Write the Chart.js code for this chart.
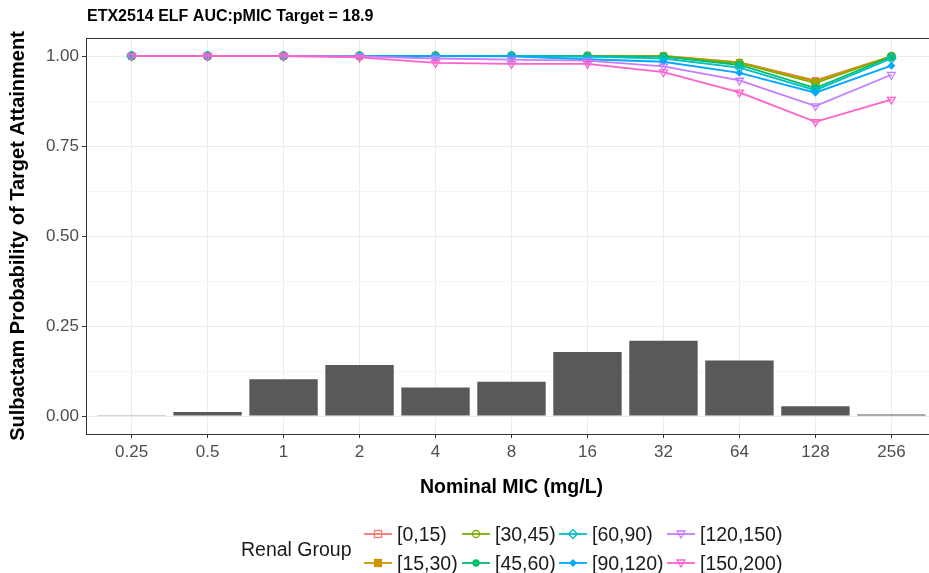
<!DOCTYPE html>
<html>
<head>
<meta charset="utf-8">
<script src="https://cdn.jsdelivr.net/npm/chart.js@4.4.1/dist/chart.umd.min.js"></script>
<style>
  html, body { margin: 0; padding: 0; overflow: hidden; background: #fff; width: 929px; height: 573px; }
  #wrap { position: absolute; left: 0; top: 0; width: 945px; height: 573px; }
  #legend { position: absolute; left: 0; top: 0; width: 929px; height: 573px; pointer-events: none;
            font-family: "Liberation Sans", Arial, sans-serif; color: #1a1a1a; }
  .lg-title { position: absolute; font-size: 19.5px; line-height: 22px; left: 241px; top: 538px; }
  .lg-item { position: absolute; height: 22px; display: flex; align-items: center; font-size: 19.5px; white-space: nowrap; }
  .lg-item svg { margin-right: 5px; }
</style>
</head>
<body>
<div id="wrap"><canvas id="c" width="945" height="573"></canvas></div>
<div id="legend"></div>
<script>
// ---------- data ----------
const categories = ['0.25', '0.5', '1', '2', '4', '8', '16', '32', '64', '128', '256'];
const micDistribution = [0.002, 0.011, 0.102, 0.142, 0.079, 0.095, 0.178, 0.209, 0.154, 0.027, 0.004];

const groupNames = ['[0,15)', '[15,30)', '[30,45)', '[45,60)', '[60,90)', '[90,120)', '[120,150)', '[150,200)'];
const pta_0_15    = [1, 1, 1, 1, 1, 1, 1, 1, 0.982, 0.932, 0.999];
const pta_15_30   = [1, 1, 1, 1, 1, 1, 1, 1, 0.982, 0.930, 0.999];
const pta_30_45   = [1, 1, 1, 1, 1, 1, 1, 0.999, 0.980, 0.925, 0.999];
const pta_45_60   = [1, 1, 1, 1, 1, 1, 0.999, 0.998, 0.975, 0.911, 0.998];
const pta_60_90   = [1, 1, 1, 1, 1, 1, 0.998, 0.993, 0.968, 0.905, 0.993];
const pta_90_120  = [1, 1, 1, 1, 1, 0.999, 0.991, 0.984, 0.953, 0.898, 0.973];
const pta_120_150 = [1, 1, 1, 0.999, 0.993, 0.990, 0.987, 0.971, 0.932, 0.861, 0.948];
const pta_150_200 = [1, 1, 1, 0.996, 0.981, 0.978, 0.978, 0.955, 0.899, 0.817, 0.879];
const ptaSeries = [pta_0_15, pta_15_30, pta_30_45, pta_45_60, pta_60_90, pta_90_120, pta_120_150, pta_150_200];

const yTickValues = [0, 0.125, 0.25, 0.375, 0.5, 0.625, 0.75, 0.875, 1];
const yTickLabels = ['0.00', '', '0.25', '', '0.50', '', '0.75', '', '1.00'];

// ---------- styles ----------
const colors = ['#F8766D', '#CD9600', '#7CAE00', '#00BE67', '#00BFC4', '#00A9FF', '#C77CFF', '#FF61CC'];
const shapes = ['rect', 'rect', 'circle', 'circle', 'rectRot', 'rectRot', 'triangle', 'triangle'];
const filled = [false, true, false, true, false, true, false, false];
const radii  = [4, 4, 4, 3.5, 4.5, 3, 4.5, 4.5];
const rotations = [0, 0, 0, 0, 0, 0, 180, 180];

const FONT = '"Liberation Sans", Arial, sans-serif';

const datasets = [{
  type: 'bar',
  label: 'MIC distribution',
  data: micDistribution.map((v, i) => ({ x: i, y: v })),
  backgroundColor: '#595959',
  borderWidth: 0,
  barPercentage: 0.9,
  categoryPercentage: 1.0,
  order: 100
}];
ptaSeries.forEach((s, k) => {
  datasets.push({
    type: 'line',
    label: groupNames[k],
    data: s.map((v, i) => ({ x: i, y: v })),
    borderColor: colors[k],
    backgroundColor: filled[k] ? colors[k] : 'rgba(0,0,0,0)',
    pointBorderColor: colors[k],
    pointBackgroundColor: filled[k] ? colors[k] : 'rgba(0,0,0,0)',
    pointStyle: shapes[k],
    pointRadius: radii[k],
    pointRotation: rotations[k],
    pointBorderWidth: 1.3,
    borderWidth: 1.8,
    tension: 0,
    fill: false,
    order: 50 - k
  });
});

const panelPlugin = {
  id: 'panel',
  afterDraw(chart) {
    const { ctx, chartArea: a } = chart;
    ctx.save();
    ctx.strokeStyle = '#333333';
    ctx.lineWidth = 1;
    ctx.strokeRect(Math.round(a.left) + 0.5, Math.round(a.top) + 0.5, Math.round(a.right - a.left), Math.round(a.bottom - a.top));
    ctx.fillStyle = '#000';
    ctx.font = 'bold 16px ' + FONT;
    ctx.textBaseline = 'middle';
    ctx.textAlign = 'left';
    ctx.fillText('ETX2514 ELF AUC:pMIC Target = 18.9', a.left + 1, 17);
    ctx.restore();
  }
};

new Chart(document.getElementById('c'), {
  data: { datasets },
  options: {
    responsive: false,
    animation: false,
    layout: { padding: { left: 0, top: 38, right: 8, bottom: 58 } },
    plugins: { legend: { display: false }, tooltip: { enabled: false } },
    scales: {
      x: {
        type: 'linear',
        offset: false,
        min: -0.6, max: 10.6,
        afterBuildTicks: (s) => { s.ticks = categories.map((c, i) => ({ value: i })); },
        afterFit: (s) => { s.height = 81; },
        ticks: {
          callback: (v) => categories[v],
          color: '#4D4D4D', font: { family: FONT, size: 17 }, padding: 4, maxRotation: 0, autoSkip: false
        },
        grid: { offset: false, color: '#EBEBEB', lineWidth: 1, tickLength: 4, tickColor: '#333333' },
        border: { display: false },
        title: { display: true, text: 'Nominal MIC (mg/L)', color: '#000', font: { family: FONT, size: 19.5, weight: 'bold' }, padding: { top: 0, bottom: 16 } }
      },
      y: {
        type: 'linear',
        min: -0.05, max: 1.05,
        afterBuildTicks: (s) => { s.ticks = yTickValues.map(v => ({ value: v })); },
        afterFit: (s) => { s.width = 86; },
        ticks: {
          callback: (v, i) => yTickLabels[i],
          color: '#4D4D4D', font: { family: FONT, size: 17 }, padding: 3, autoSkip: false
        },
        grid: {
          color: (c) => (c.index % 2 === 0 ? '#EBEBEB' : '#F5F5F5'),
          lineWidth: 1, tickLength: 4,
          tickColor: (c) => (c.index % 2 === 0 ? '#333333' : 'rgba(0,0,0,0)')
        },
        border: { display: false },
        title: { display: true, text: 'Sulbactam Probability of Target Attainment', color: '#000', font: { family: FONT, size: 20, weight: 'bold' }, padding: { top: 6, bottom: 0 } }
      }
    }
  },
  plugins: [panelPlugin]
});

// ---------- legend (HTML, built from the same arrays) ----------
function keySvg(k) {
  const c = colors[k];
  const fill = filled[k] ? c : 'none';
  let m = '';
  const cx = 14, cy = 8;
  if (shapes[k] === 'rect') m = `<rect x="${cx-3.5}" y="${cy-3.5}" width="7" height="7" fill="${fill}" stroke="${c}" stroke-width="1.3"/>`;
  else if (shapes[k] === 'circle') m = `<circle cx="${cx}" cy="${cy}" r="${radii[k] - 0.5}" fill="${fill}" stroke="${c}" stroke-width="1.3"/>`;
  else if (shapes[k] === 'rectRot') { const r = radii[k]; m = `<polygon points="${cx},${cy-r} ${cx+r},${cy} ${cx},${cy+r} ${cx-r},${cy}" fill="${fill}" stroke="${c}" stroke-width="1.3"/>`; }
  else { m = `<polygon points="${cx-4},${cy-3} ${cx+4},${cy-3} ${cx},${cy+4}" fill="${fill}" stroke="${c}" stroke-width="1.3"/>`; }
  return `<svg width="28" height="16" viewBox="0 0 28 16"><line x1="0" y1="${cy}" x2="28" y2="${cy}" stroke="${c}" stroke-width="1.8"/>${m}</svg>`;
}
const lg = document.getElementById('legend');
const t = document.createElement('div');
t.className = 'lg-title'; t.textContent = 'Renal Group';
lg.appendChild(t);
const colX = [364, 462, 559, 667];
const rowY = [523, 552];
groupNames.forEach((name, k) => {
  const col = Math.floor(k / 2), row = k % 2;
  const d = document.createElement('div');
  d.className = 'lg-item';
  d.style.left = colX[col] + 'px';
  d.style.top = rowY[row] + 'px';
  d.innerHTML = keySvg(k) + '<span>' + name + '</span>';
  lg.appendChild(d);
});
</script>
</body>
</html>
